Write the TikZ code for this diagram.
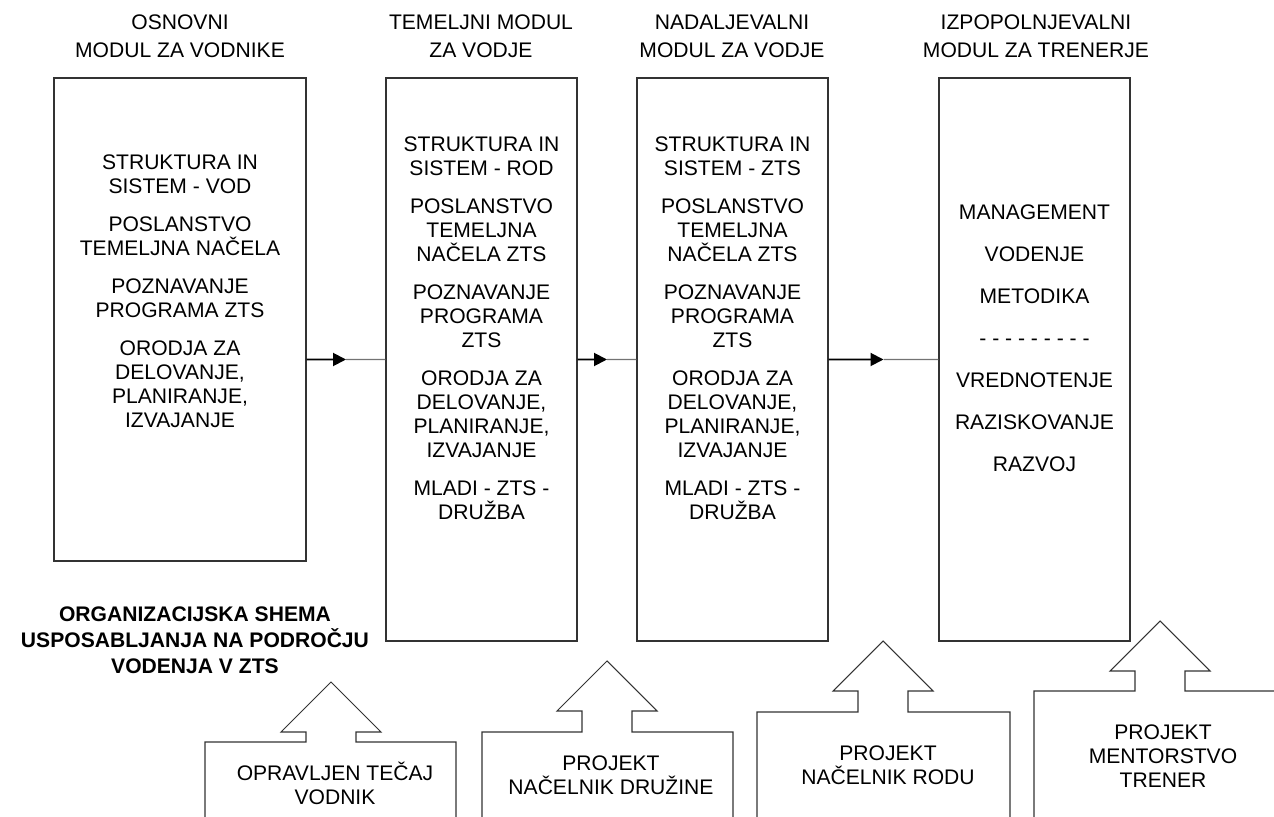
\documentclass[tikz,border=0pt]{standalone}
\usepackage{fontspec}
\setmainfont{Liberation Sans}
\usetikzlibrary{calc,positioning,arrows.meta}
\tikzset{
	modbox/.style={draw=black!80,line width=0.6pt,inner sep=0pt},
	boxtext/.style={align=center,inner sep=0pt,font=\fontsize{12}{13.66}\selectfont},
	headtext/.style={align=center,inner sep=0pt,font=\fontsize{12}{15.9}\selectfont},
	titletext/.style={align=center,inner sep=0pt,font=\fontsize{12}{14.8}\selectfont\bfseries},
	feed/.style={line width=1.1pt,-{Triangle[length=2.6mm,width=2.6mm]}},
	feedrest/.style={draw=black!55,line width=0.6pt},
	projline/.style={draw=black!80,line width=0.6pt,line join=miter}
}
% block arrow on top of an open box: left x, right x, box top, centre x, tip y
\newcommand{\projshape}[5]{%
	\draw[projline] (#1,820) -- (#1,#3) -- ({#4-25},#3) -- ({#4-25},{#5+50}) -- ({#4-50},{#5+50})
	-- (#4,#5) -- ({#4+50},{#5+50}) -- ({#4+25},{#5+50}) -- ({#4+25},#3) -- (#2,#3) -- (#2,820);}

\begin{document}
\begin{tikzpicture}[x=0.2mm,y=-0.2mm]
				\useasboundingbox (0,0) rectangle (1274,817);
				%\draw[color=gray,step=10, help lines,opacity=0.3] (0,0) grid (1274,817); %help grid
				% modules
				\node[modbox,minimum width=5.04cm,minimum height=9.66cm] (box1) at (180,319.5) {};
				\node[modbox,minimum width=3.82cm,minimum height=11.26cm] (box2) at (481.5,359.5) {};
				\node[modbox,minimum width=3.82cm,minimum height=11.26cm] (box3) at (732.5,359.5) {};
				\node[modbox,minimum width=3.82cm,minimum height=11.26cm] (box4) at (1034.5,359.5) {};
				\node[headtext] (head1) at (180,36) {OSNOVNI\\MODUL ZA VODNIKE};
				\node[headtext] (head2) at (481,36) {TEMELJNI MODUL\\ZA VODJE};
				\node[headtext] (head3) at (732,36) {NADALJEVALNI\\MODUL ZA VODJE};
				\node[headtext] (head4) at (1036,36) {IZPOPOLNJEVALNI\\MODUL ZA TRENERJE};
				\node[boxtext] (text1) at (180,291) {STRUKTURA IN\\SISTEM - VOD\\[8pt]POSLANSTVO\\TEMELJNA NAČELA\\[8pt]POZNAVANJE\\PROGRAMA ZTS\\[8pt]ORODJA ZA\\DELOVANJE,\\PLANIRANJE,\\IZVAJANJE};
				\node[boxtext] (text2) at (481.5,328) {STRUKTURA IN\\SISTEM - ROD\\[8pt]POSLANSTVO\\TEMELJNA\\NAČELA ZTS\\[8pt]POZNAVANJE\\PROGRAMA\\ZTS\\[8pt]ORODJA ZA\\DELOVANJE,\\PLANIRANJE,\\IZVAJANJE\\[8pt]MLADI - ZTS -\\DRUŽBA};
				\node[boxtext] (text3) at (732.5,328) {STRUKTURA IN\\SISTEM - ZTS\\[8pt]POSLANSTVO\\TEMELJNA\\NAČELA ZTS\\[8pt]POZNAVANJE\\PROGRAMA\\ZTS\\[8pt]ORODJA ZA\\DELOVANJE,\\PLANIRANJE,\\IZVAJANJE\\[8pt]MLADI - ZTS -\\DRUŽBA};
				\node[boxtext] (text4) at (1034.5,338) {MANAGEMENT\\[10.2pt]VODENJE\\[10.2pt]METODIKA\\[10.2pt]- - - - - - - - -\\[10.2pt]VREDNOTENJE\\[10.2pt]RAZISKOVANJE\\[10.2pt]RAZVOJ};
				% flow between modules
				\coordinate (m1) at ($(box1.east |- box2.west)!0.5!(box2.west)$);
				\coordinate (m2) at ($(box2.east)!0.5!(box3.west)$);
				\coordinate (m3) at ($(box3.east)!0.5!(box4.west)$);
				\draw[feed] (box1.east |- box2.west) -- (m1);
				\draw[feedrest] (m1) -- (box2.west);
				\draw[feed] (box2.east) -- (m2);
				\draw[feedrest] (m2) -- (box3.west);
				\draw[feed] (box3.east) -- (m3);
				\draw[feedrest] (m3) -- (box4.west);
				% title
				\node[titletext] (title) at (195,640) {ORGANIZACIJSKA SHEMA\\USPOSABLJANJA NA PODROČJU\\VODENJA V ZTS};
				% projects
				\projshape{205}{456}{742}{331}{682}
				\projshape{482}{733}{732}{607}{661}
				\projshape{757}{1010}{712}{883}{641}
				\projshape{1034}{1300}{691}{1160}{621}
				\node[boxtext] (proj1) at (335,783) {OPRAVLJEN TEČAJ\\VODNIK};
				\node[boxtext] (proj2) at (611,775) {PROJEKT\\NAČELNIK DRUŽINE};
				\node[boxtext] (proj3) at (888,765) {PROJEKT\\NAČELNIK RODU};
				\node[boxtext] (proj4) at (1163,756) {PROJEKT\\MENTORSTVO\\TRENER};
\end{tikzpicture}
\end{document}
